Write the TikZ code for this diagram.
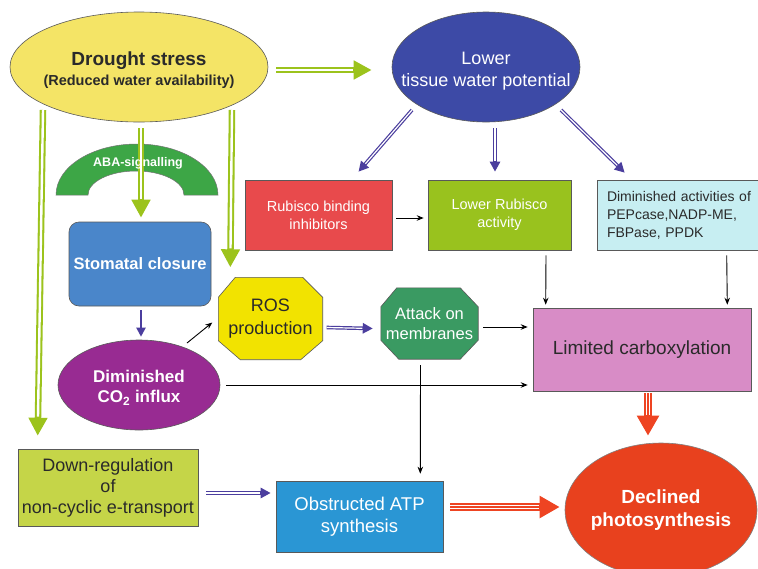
\documentclass[tikz,border=0pt]{standalone}
\usepackage{fontspec}
\setmainfont{Liberation Sans}
\usetikzlibrary{shapes.geometric,arrows.meta,calc,backgrounds}
\definecolor{cDrought}{HTML}{F4E466}
\definecolor{cLow}{HTML}{3D4AA6}
\definecolor{cGreenArr}{HTML}{9CC31C}
\definecolor{cABA}{HTML}{3DA646}
\definecolor{cStom}{HTML}{4A86CA}
\definecolor{cPur}{HTML}{4B3E9E}
\definecolor{cCO}{HTML}{982B92}
\definecolor{cROS}{HTML}{F2E300}
\definecolor{cAtt}{HTML}{3A9A62}
\definecolor{cRbi}{HTML}{E84A4C}
\definecolor{cLra}{HTML}{99C21E}
\definecolor{cDim}{HTML}{C7EEF2}
\definecolor{cLc}{HTML}{D88CC6}
\definecolor{cDr}{HTML}{C5D548}
\definecolor{cAtp}{HTML}{2A96D4}
\definecolor{cDp}{HTML}{E8411E}
\definecolor{cRed}{HTML}{EE4422}
\definecolor{cTxt}{HTML}{2A2A2A}
\tikzset{
  base/.style={draw=black!65, line width=0.6pt, align=center, inner sep=0pt},
  ell/.style={base, ellipse},
  box/.style={base, rectangle},
  blk/.style={draw=black, line width=0.9pt, -{Stealth[length=7pt,width=5.5pt]}},
  garr/.style={draw=cGreenArr, line width=6.5pt, -{Triangle[length=18pt,width=18pt]},
     postaction={draw=white, line width=2.4pt, -, shorten >=19pt}},
  parr/.style={draw=cPur, line width=3.6pt, -{Triangle[length=10pt,width=10pt]},
     postaction={draw=white, line width=1.2pt, -, shorten >=10.5pt}},
  psingle/.style={draw=cPur, line width=2pt, -{Triangle[length=9pt,width=9pt]}},
  rarr/.style={draw=cRed, line width=8pt, -{Triangle[length=20pt,width=21pt]},
     postaction={draw=white, double=cRed, line width=0.9pt, double distance=2.4pt, -, shorten >=20.5pt}},
}
\begin{document}
\begin{tikzpicture}[x=1pt,y=-1pt]
\useasboundingbox (0,0) rectangle (758,568);
\clip (0,0) rectangle (758,568);

% ---- nodes ----
\node[ell, fill=cDrought, minimum width=258pt, minimum height=110pt,
  label={[align=center,text=cTxt,font=\bfseries,yshift=-3pt]center:{\fontsize{19}{22}\selectfont Drought stress}\\[4pt]{\fontsize{14.5}{17}\selectfont (Reduced water availability)}}] (ds) at (139,67) {};
\node[ell, fill=cLow, minimum width=188pt, minimum height=110pt,
  label={[align=center,text=white,font=\fontsize{18}{22}\selectfont,yshift=-4pt]center:Lower\\tissue water potential}] (ltw) at (486,67) {};

\node[box, fill=cStom, rounded corners=10pt, minimum width=142pt, minimum height=84pt,
  text=white, font=\fontsize{16.5}{20}\selectfont\bfseries] (sc) at (140,264) {Stomatal closure};

\node[ell, fill=cCO, minimum width=162pt, minimum height=90pt,
  label={[align=center,text=white,font=\fontsize{17}{20}\selectfont\bfseries,yshift=-3pt]center:Diminished\\CO\textsubscript{2} influx}] (co) at (139,385) {};

\node[inner sep=0pt, minimum width=104pt, minimum height=82pt, align=center, text=cTxt,
  font=\fontsize{18}{23}\selectfont] (ros) at (270.5,318.5) {ROS\\production};
\node[inner sep=0pt, minimum width=97pt, minimum height=71pt, align=center, text=white,
  font=\fontsize{16.5}{20}\selectfont] (att) at (429.5,323.5) {Attack on\\membranes};

\node[box, fill=cRbi, minimum width=147pt, minimum height=70pt, text=white,
  font=\fontsize{14.5}{18}\selectfont] (rbi) at (318.5,215) {Rubisco binding\\inhibitors};
\node[box, fill=cLra, minimum width=143pt, minimum height=70pt, text=white,
  font=\fontsize{14.5}{18}\selectfont] (lra) at (499.5,215) {Lower Rubisco\\activity};
\node[box, fill=cDim, minimum width=171pt, minimum height=70pt, text width=151pt,
  inner xsep=10pt, align=left, text=cTxt, font=\fontsize{14}{18}\selectfont] (dim) at (682.5,215)
  {Diminished activities of\\PEPcase,NADP-ME,\\FBPase, PPDK};

\node[box, fill=cLc, minimum width=218pt, minimum height=83pt, text=cTxt,
  font=\fontsize{19}{22}\selectfont] (lc) at (642,349.5) {Limited carboxylation};

\node[box, fill=cDr, minimum width=180pt, minimum height=77pt, text=cTxt,
  font=\fontsize{18}{21}\selectfont] (dr) at (108,487.5) {Down-regulation\\of\\non-cyclic e-transport};
\node[box, fill=cAtp, minimum width=167pt, minimum height=71pt, text=white,
  font=\fontsize{18.5}{22}\selectfont] (atp) at (359.5,516.5) {Obstructed ATP\\synthesis};

\node[ell, fill=cDp, draw=black!50, minimum width=192pt, minimum height=134pt,
  label={[align=center,text=white,font=\fontsize{19}{23}\selectfont\bfseries]center:Declined\\photosynthesis}] (dp) at (661,510) {};

% ---- background shapes ----
\begin{pgfonlayer}{background}
\fill[white] (0,0) rectangle (758,568);
\filldraw[fill=cABA, draw=black!55, line width=0.5pt]
  (56,195) arc[start angle=180, end angle=360, x radius=81, y radius=51]
  -- (184,195) arc[start angle=0, end angle=-180, x radius=48, y radius=24] -- cycle;
\filldraw[fill=cROS, draw=black!65, line width=0.6pt]
  ($(ros.north west)+(17,0)$) -- ($(ros.north east)+(-20,0)$) -- ($(ros.north east)+(0,20)$)
  -- ($(ros.south east)+(0,-19)$) -- ($(ros.south east)+(-22,0)$) -- ($(ros.south west)+(22,0)$)
  -- ($(ros.south west)+(0,-19)$) -- ($(ros.north west)+(0,20)$) -- cycle;
\filldraw[fill=cAtt, draw=black!65, line width=0.6pt]
  ($(att.north west)+(16,0)$) -- ($(att.north east)+(-18,0)$) -- ($(att.north east)+(0,19)$)
  -- ($(att.south east)+(0,-19)$) -- ($(att.south east)+(-18,0)$) -- ($(att.south west)+(18,0)$)
  -- ($(att.south west)+(0,-19)$) -- ($(att.north west)+(0,19)$) -- cycle;
\end{pgfonlayer}

% ---- green arrows ----
\draw[garr] ($(ds.east)+(8,3)$) -- ($(ltw.west)+(-20,3)$);
\draw[garr] ($(ds.center)+(-96,43)$) -- ($(dr.north west)+(20,-13)$);
\draw[garr] ($(ds.south)+(2,6)$) -- ($(sc.north)+(1,-4)$);
\draw[garr] ($(ds.center)+(93,43)$) -- ($(ros.north west)+(12,-10)$);

% ABA label over the arrow
\node[text=white, font=\fontsize{12.5}{15}\selectfont\bfseries] (aba) at (138,163) {ABA-signalling};

% ---- purple arrows ----
\draw[parr] ($(ltw.center)+(-74,43)$) -- ($(rbi.north)+(40,-8)$);
\draw[parr] ($(ltw.south)+(9,6)$) -- ($(lra.north)+(-4.5,-8)$);
\draw[parr] ($(ltw.center)+(75,43)$) -- ($(dim.north west)+(28,-7)$);
\draw[psingle] ($(sc.south)+(1,4)$) -- ($(co.north)+(2,-3)$);
\draw[parr] ($(ros.east)+(4,9)$) -- ($(att.west)+(-8,5)$);
\draw[parr] ($(dr.east)+(8,5.5)$) -- ($(atp.west)+(-5,-23.5)$);

% ---- black arrows ----
\draw[blk] ($(co.center)+(48,-42)$) -- ($(ros.west)+(-6,4)$);
\draw[blk] ($(att.east)+(5,3.5)$) -- ($(lc.west)+(-5,-22.5)$);
\draw[blk] ($(co.east)+(6,0)$) -- ($(lc.west)+(-5,35.5)$);
\draw[blk] ($(att.south)+(-9,6)$) -- ($(atp.north east)+(-23,-7)$);
\draw[blk] ($(rbi.east)+(4,3)$) -- ($(lra.west)+(-4,3)$);
\draw[blk] ($(lra.south)+(46.5,5)$) -- ($(lc.north west)+(13,-3)$);
\draw[blk] ($(dim.south west)+(130,5)$) -- ($(lc.north east)+(-24,-3)$);

% ---- red arrows ----
\draw[rarr] ($(atp.east)+(7,-9.5)$) -- ($(dp.west)+(-5,-3)$);
\draw[rarr] ($(lc.south)+(6,2)$) -- ($(dp.north)+(-13,-7)$);
\end{tikzpicture}
\end{document}
